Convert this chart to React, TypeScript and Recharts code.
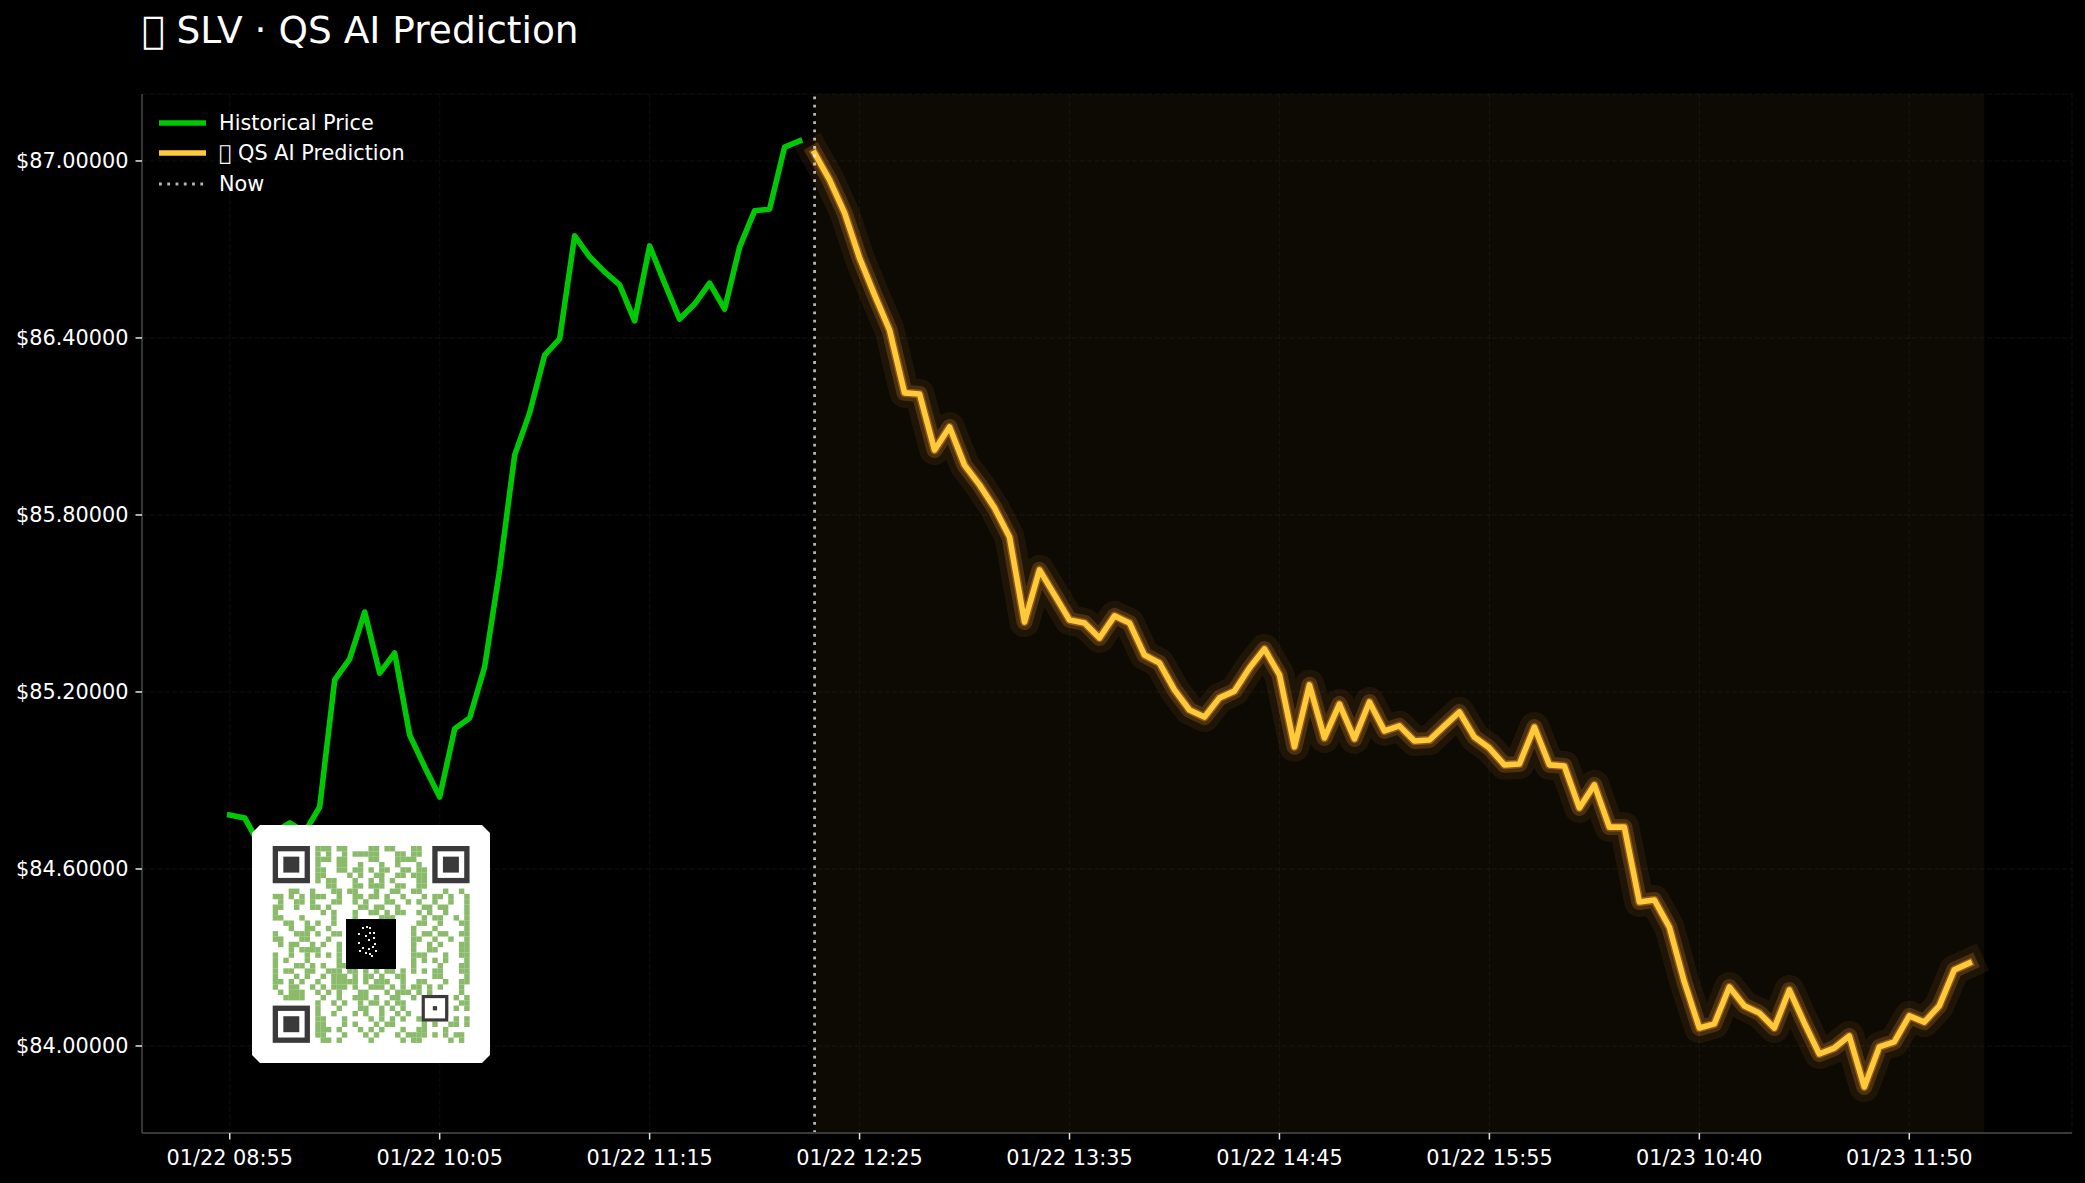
import { LineChart, Line, XAxis, YAxis, CartesianGrid, ReferenceArea, ReferenceLine, Legend } from "recharts";

const FONT = "'DejaVu Sans', sans-serif";
// no glyph for the emoji in the reference, it shows up as an empty box
const MISSING = "\uE000";

// history, one point per 5 min bar, starts at index 0
const historyPrices = [
  84.783, 84.773, 84.681, 84.725, 84.756, 84.725, 84.81, 85.241, 85.312, 85.471, 85.264, 85.332, 85.054,
  84.946, 84.844, 85.075, 85.112, 85.285, 85.614, 86.003, 86.146, 86.342, 86.397, 86.746, 86.675, 86.624,
  86.58, 86.458, 86.712, 86.586, 86.464, 86.515, 86.586, 86.498, 86.708, 86.831, 86.837, 87.047, 87.068,
];

// prediction, starts right at the "now" index
const predictedPrices = [
  87.027, 86.936, 86.824, 86.671, 86.546, 86.427, 86.214, 86.21, 86.02, 86.098, 85.969, 85.902, 85.824,
  85.725, 85.437, 85.614, 85.529, 85.444, 85.434, 85.383, 85.458, 85.434, 85.325, 85.298, 85.207, 85.139,
  85.115, 85.18, 85.203, 85.281, 85.346, 85.258, 85.014, 85.224, 85.044, 85.159, 85.041, 85.166, 85.068,
  85.085, 85.034, 85.037, 85.085, 85.132, 85.047, 85.01, 84.953, 84.956, 85.081, 84.953, 84.949, 84.807,
  84.885, 84.742, 84.742, 84.488, 84.495, 84.403, 84.217, 84.061, 84.075, 84.2, 84.136, 84.112, 84.061,
  84.19, 84.078, 83.973, 83.993, 84.034, 83.861, 83.997, 84.014, 84.102, 84.081, 84.136, 84.258, 84.281,
];

const timeLabels = [
  "01/22 08:55", "01/22 10:05", "01/22 11:15", "01/22 12:25", "01/22 13:35",
  "01/22 14:45", "01/22 15:55", "01/23 10:40", "01/23 11:50",
];
const xTicks = [0, 14, 28, 42, 56, 70, 84, 98, 112];
const yTicks = [84, 84.6, 85.2, 85.8, 86.4, 87];
const NOW_INDEX = 39;
const END_INDEX = 117;

const rows = [...historyPrices.map((price, i) => ({ i, price, pred: null as number | null }))];
predictedPrices.forEach((pred, k) => rows.push({ i: NOW_INDEX + k, price: null as any, pred }));

const qrRows = [
  "........###.##....##.##...##.........",
  "........#.#..#.#####...##.##.........",
  "........###.##....##...####..........",
  "........#...##..#...#..#...#.........",
  "........##..##.##.#.##..##.##........",
  "........##....#.#..##..##.###........",
  "........#.##...#..#.#.#....##........",
  "..........##...##.###..##..##........",
  "...##..#...##.##...#..##..##....#..#.",
  "##.#.#.###..#..##.##.#..#...#.##.#..#",
  ".#..##.#...##..#.#...##..#.#..#..#..#",
  "##..#..##.#.....##.##..#....##.##...#",
  "#........#.#...#..##.#.##..#.#..#...#",
  "##...#.....#...#....###.....#.##..#.#",
  "..##..#.#..#...............##..#...##",
  "...#..##..#...............#...#.....#",
  "#...###.#..##.............#.##.##..##",
  "##...##...#...............##..#..#..#",
  ".#.##..#.#..#.............#..#.#...##",
  "...#.####...#.............#..##....##",
  "#..#..#.#.#.#.............###...#..##",
  "#.#...#.....#.............#.#.#.#...#",
  "#...##.#.#..###...........#....#...##",
  "#.##..##..###.##.#.#.##.#.#.#.##...##",
  "#...#.#..#.###.#.##.#..##.....##....#",
  "##.#.#..#..#####.#.###..#..##...#..##",
  "#..##..#.#.###.#..###.#.#.##.#.#...#.",
  ".#.###..#.#.#...##...#.###.#.#.....#.",
  "..####...#..#..###.#..##..#.....#.#.#",
  "........#..#.#..#.##.#.##.......#..##",
  "........#...#...##..#.#.#.......#.#.#",
  "........#..#...#.#..#..#.#......#....",
  "........##...#....#.#.#.#..##.....#.#",
  "........##...#.#...#.##.....#.#..##.#",
  "........###.#...#.#.#...#..##...#....",
  "........##...#...#.#...#.####.#.#.##",
  ".........##.#.....#.....#.##.....#.#.",
];
const qrFinders = [[0, 0], [30, 0], [0, 30]];
const qrLogoDots = [
  [22, 14], [26, 13], [29, 14], [18, 20], [25, 22], [29, 19], [28, 26], [18, 29], [22, 34], [28, 35],
  [19, 37], [32, 33], [25, 39], [29, 40], [31, 42], [35, 37], [34, 30], [33, 24], [33, 19],
];

const legendItems = [
  { label: "Historical Price", color: "#00c805", dash: undefined, width: 5.6 },
  { label: MISSING + " QS AI Prediction", color: "#ffca3a", dash: undefined, width: 5.6 },
  { label: "Now", color: "#b4b4b4", dash: "2.8 5.47", width: 2.8 },
];

function ChartLegend() {
  return (
    <div style={{ fontFamily: FONT, fontSize: 20.8, color: "#fff" }}>
      {legendItems.map((it) => (
        <div key={it.label} style={{ display: "flex", alignItems: "center", height: 30.6, whiteSpace: "pre" }}>
          <svg width={47} height={10} style={{ marginRight: 13 }}>
            <line x1={0} x2={47} y1={5} y2={5} stroke={it.color} strokeWidth={it.width} strokeDasharray={it.dash} />
          </svg>
          <span>{it.label}</span>
        </div>
      ))}
    </div>
  );
}

function QrBadge() {
  const m = 5.32;
  return (
    <svg width={238} height={238} style={{ position: "absolute", left: 252, top: 825 }}>
      <polygon points="8,0 230,0 238,8 238,230 230,238 8,238 0,230 0,8" fill="#fff" />
      <g transform="translate(20.7,21)" style={{ filter: "blur(0.6px)" }}>
        {qrRows.map((row, r) =>
          row.split("").map((c, k) =>
            c === "#" ? <rect key={r + "-" + k} x={k * m} y={r * m} width={m + 0.1} height={m + 0.1} fill="#8abb6a" /> : null
          )
        )}
        {qrFinders.map(([cx, cy]) => (
          <g key={cx + "-" + cy}>
            <rect x={cx * m} y={cy * m} width={7 * m} height={7 * m} fill="#3a3a3a" />
            <rect x={(cx + 1) * m} y={(cy + 1) * m} width={5 * m} height={5 * m} fill="#fff" />
            <rect x={(cx + 2) * m} y={(cy + 2) * m} width={3 * m} height={3 * m} fill="#3a3a3a" />
          </g>
        ))}
        <rect x={28 * m} y={28 * m} width={5 * m} height={5 * m} fill="#3a3a3a" />
        <rect x={28.6 * m} y={28.6 * m} width={3.8 * m} height={3.8 * m} fill="#fff" />
        <rect x={30.1 * m} y={30.1 * m} width={0.8 * m} height={0.8 * m} fill="#3a3a3a" />
      </g>
      <rect x={94} y={94} width={50} height={50} fill="#000" />
      {qrLogoDots.map(([x, y]) => (
        <rect key={x + "-" + y} x={94 + x - 6} y={94 + y - 6} width={2} height={2} fill="#eee" />
      ))}
    </svg>
  );
}

export default function App() {
  return (
    <div style={{ position: "fixed", left: 0, top: 0, width: 2085, height: 1183, background: "#000", overflow: "hidden" }}>
      <div style={{ position: "absolute", left: 142, top: 7, fontFamily: FONT, fontSize: 37.5, color: "#fff", lineHeight: "46px", whiteSpace: "pre" }}>
        {MISSING} SLV · QS AI Prediction
      </div>
      <LineChart width={2085} height={1183} data={rows} margin={{ top: 94, right: 13, bottom: 0, left: 0 }}>
        <CartesianGrid stroke="#fff" strokeOpacity={0.04} strokeWidth={1.4} strokeDasharray="5.2 2.3" />
        <XAxis
          dataKey="i"
          type="number"
          domain={[-5.85, 122.85]}
          ticks={xTicks}
          tickFormatter={(v: number) => timeLabels[xTicks.indexOf(v)]}
          interval={0}
          height={50}
          tickSize={6.5}
          tickMargin={11}
          tick={{ fill: "#fff", fontFamily: FONT, fontSize: 20.8 }}
          tickLine={{ stroke: "#e6e6e6", strokeWidth: 1.5 }}
          axisLine={{ stroke: "#3a3a3a", strokeWidth: 1.8 }}
        />
        <YAxis
          type="number"
          domain={[83.705, 87.227]}
          ticks={yTicks}
          tickFormatter={(v: number) => "$" + v.toFixed(5)}
          interval={0}
          width={142}
          tickSize={6.5}
          tickMargin={7}
          tick={{ fill: "#fff", fontFamily: FONT, fontSize: 20.8 }}
          tickLine={{ stroke: "#e6e6e6", strokeWidth: 1.5 }}
          axisLine={{ stroke: "#3a3a3a", strokeWidth: 1.8 }}
        />
        <ReferenceArea x1={NOW_INDEX} x2={END_INDEX} fill="#ffc850" fillOpacity={0.05} stroke="none" />
        <Line dataKey="price" stroke="#00c805" strokeWidth={5.6} strokeLinecap="square" strokeLinejoin="round" dot={false} activeDot={false} isAnimationActive={false} />
        <Line dataKey="pred" stroke="#ff9f30" strokeOpacity={0.08} strokeWidth={30} strokeLinecap="square" strokeLinejoin="round" dot={false} activeDot={false} isAnimationActive={false} />
        <Line dataKey="pred" stroke="#ff9f30" strokeOpacity={0.2} strokeWidth={16} strokeLinecap="square" strokeLinejoin="round" dot={false} activeDot={false} isAnimationActive={false} />
        <Line dataKey="pred" stroke="#ff9f30" strokeOpacity={0.38} strokeWidth={8.6} strokeLinecap="square" strokeLinejoin="round" dot={false} activeDot={false} isAnimationActive={false} />
        <Line dataKey="pred" stroke="#ffca3a" strokeWidth={5.6} strokeLinecap="square" strokeLinejoin="round" dot={false} activeDot={false} isAnimationActive={false} />
        <ReferenceLine x={NOW_INDEX} stroke="#fff" strokeOpacity={0.7} strokeWidth={2.8} strokeDasharray="2.8 5.47" />
        <Legend
          layout="vertical"
          align="center"
          verticalAlign="middle"
          content={<ChartLegend />}
          wrapperStyle={{ left: 159, top: 107.5, width: "auto" }}
        />
      </LineChart>
      <QrBadge />
    </div>
  );
}
